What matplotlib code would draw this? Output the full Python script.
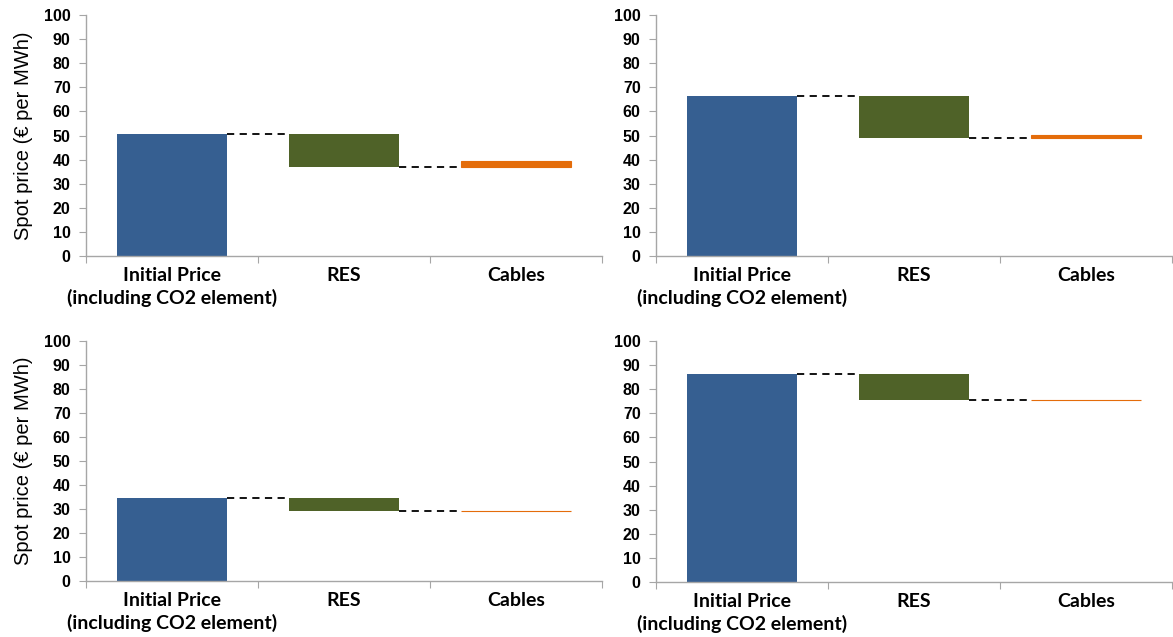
import numpy as np
import matplotlib.pyplot as plt

categories = ["Initial Price\n(including CO2 element)", "RES", "Cables"]

# one entry per panel: top-left, top-right, bottom-left, bottom-right
initialPrice = [50.7, 66.5, 34.5, 86.5]
afterRes = [37.0, 49.0, 29.0, 75.5]
afterCables = [39.6, 50.4, 29.2, 75.7]

yTicks = list(range(0, 101, 10))

blue = "#365F91"
green = "#4F6228"
orange = "#E46C0A"
grey = "#A6A6A6"

fig = plt.figure(figsize=(11.73, 6.37), dpi=100)

# axes boxes in figure fractions [left, bottom, width, height]
boxes = [
    [86/1173, 1-256/637, 516/1173, 241/637],
    [656/1173, 1-256/637, 516/1173, 241/637],
    [86/1173, 1-581/637, 516/1173, 240/637],
    [656/1173, 1-582/637, 516/1173, 241/637],
]

barW = 0.645
for k in range(4):
    ax = fig.add_axes(boxes[k])
    x = np.arange(3)
    p0 = initialPrice[k]
    p1 = afterRes[k]
    p2 = afterCables[k]
    ax.bar(x[0], p0, width=barW, color=blue, zorder=2)
    ax.bar(x[1], p0-p1, bottom=p1, width=barW, color=green, zorder=2)
    lo = min(p1, p2)
    ax.bar(x[2], abs(p2-p1), bottom=lo, width=barW, color=orange,
           edgecolor=orange, lw=0.8, zorder=2)
    # dashed connectors
    ax.plot([x[0]+barW/2, x[1]-barW/2], [p0, p0], ls=(0, (4, 3)), color="black", lw=1.3)
    ax.plot([x[1]+barW/2, x[2]-barW/2], [p1, p1], ls=(0, (4, 3)), color="black", lw=1.3)

    ax.set_xlim(-0.5, 2.5)
    ax.set_ylim(0, 100)
    ax.set_yticks(yTicks)
    ax.set_yticklabels([str(t) for t in yTicks], fontfamily="Liberation Sans",
                       fontweight="bold", fontsize=11.5)
    ax.set_xticks([-0.5, 0.5, 1.5, 2.5])
    ax.set_xticklabels([])
    ax.set_xticks(x, minor=True)
    ax.set_xticklabels(categories, minor=True, fontfamily="Lato", fontweight="bold",
                       fontsize=14, linespacing=1.3)
    ax.tick_params(axis="x", which="minor", length=0, pad=8)
    ax.tick_params(axis="x", which="major", length=5, color=grey, direction="out")
    ax.tick_params(axis="y", length=5, color=grey, direction="out", pad=6)
    for s in ["top", "right"]:
        ax.spines[s].set_visible(False)
    for s in ["left", "bottom"]:
        ax.spines[s].set_color(grey)
        ax.spines[s].set_linewidth(1.0)
    if k % 2 == 0:
        ax.set_ylabel("Spot price (€ per MWh)", fontfamily="Liberation Sans",
                      fontsize=14.5, labelpad=8)

fig.savefig("out.png", dpi=100)
